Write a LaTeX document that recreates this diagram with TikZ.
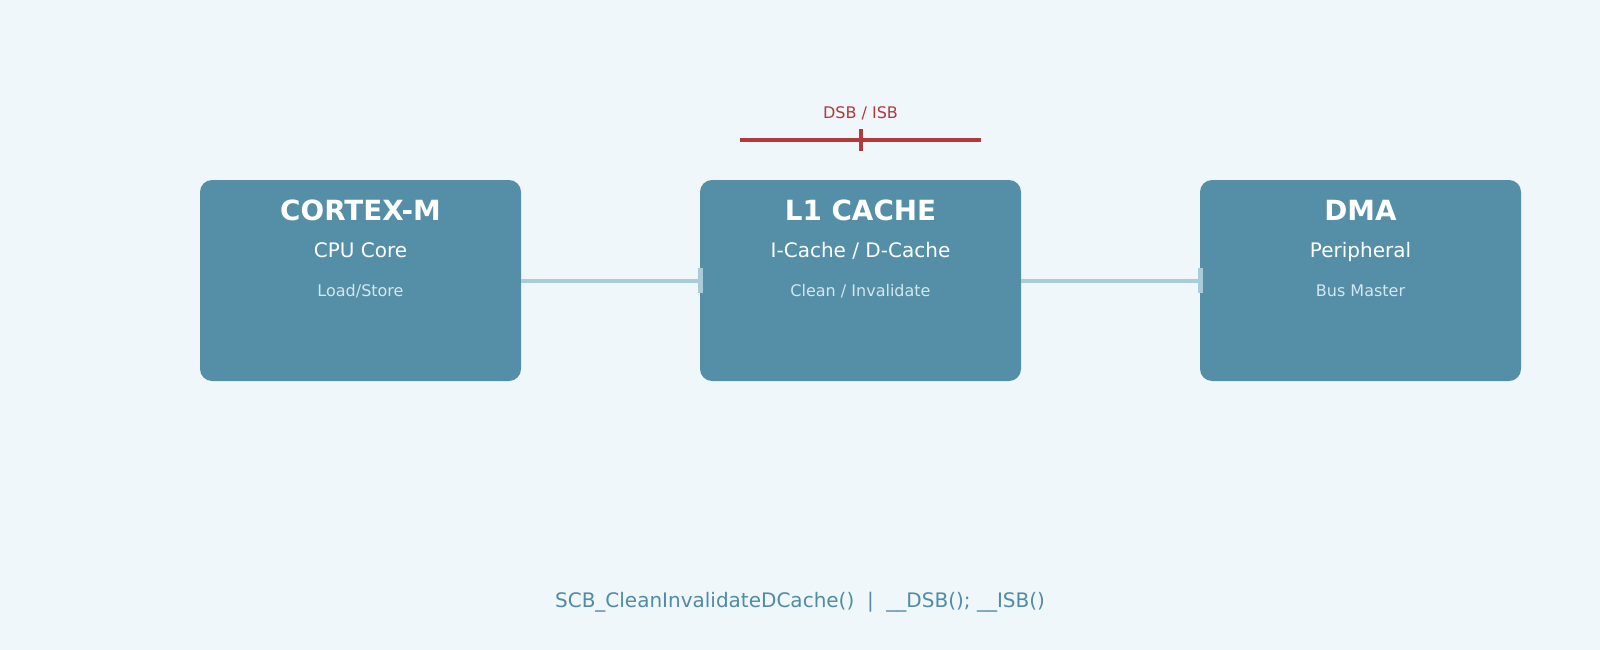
\documentclass[tikz,border=0pt]{standalone}
\usepackage{fontspec}
\setmainfont{DejaVu Sans}
\definecolor{bg}{HTML}{EFF7FA}
\definecolor{boxfill}{HTML}{558FA7}
\definecolor{conn}{HTML}{A8CCD9}
\definecolor{barred}{HTML}{B03A3C}
\definecolor{subtxt}{HTML}{D2E7EF}
\definecolor{codetxt}{HTML}{4F8CA6}
\begin{document}
\begin{tikzpicture}[x=1pt,y=-1pt,
  unit/.style={draw=none,fill=boxfill,rounded corners=12pt,minimum width=321pt,minimum height=201pt,inner sep=0pt},
  ttl/.style={anchor=base,text=white,inner sep=0pt,font=\fontsize{27.8}{32}\selectfont\bfseries},
  subt/.style={anchor=base,text=white,inner sep=0pt,font=\fontsize{20}{24}\selectfont},
  notet/.style={anchor=base,text=subtxt,inner sep=0pt,font=\fontsize{16}{19}\selectfont},
  link/.style={draw=conn,line width=4pt},
  linkend/.style={draw=conn,line width=4.5pt},
  fence/.style={draw=barred,line width=3pt},
  fencetick/.style={draw=barred,line width=4pt},
  fencelbl/.style={anchor=base,text=barred,inner sep=0pt,font=\fontsize{16}{19}\selectfont},
  codelbl/.style={anchor=base,text=codetxt,inner sep=0pt,font=\fontsize{20}{24}\selectfont}]
\fill[bg] (0,0) rectangle (1600,650);
\useasboundingbox (0,0) rectangle (1600,650);

\node[unit] (cpu) at (360.5,280.5) {};
\node[unit] (l1) at (860.5,280.5) {};
\node[unit] (dma) at (1360.5,280.5) {};

\node[ttl] (cpuT) at (360.5,220) {CORTEX-M};
\node[subt] (cpuS) at (360.5,257) {CPU Core};
\node[notet] (cpuN) at (360.5,296) {Load/Store};

\node[ttl] (l1T) at (860.5,220) {L1 CACHE};
\node[subt] (l1S) at (860.5,257) {I-Cache / D-Cache};
\node[notet] (l1N) at (860.5,296) {Clean / Invalidate};

\node[ttl] (dmaT) at (1360.5,220) {DMA};
\node[subt] (dmaS) at (1360.5,257) {Peripheral};
\node[notet] (dmaN) at (1360.5,296) {Bus Master};

\draw[link] (cpu.east) -- (l1.west);
\draw[linkend] ([shift={(0.5pt,-12.5pt)}]l1.west) -- ([shift={(0.5pt,12.5pt)}]l1.west);
\draw[link] (l1.east) -- (dma.west);
\draw[linkend] ([shift={(0.5pt,-12.5pt)}]dma.west) -- ([shift={(0.5pt,12.5pt)}]dma.west);

\coordinate (fl) at (740,140);
\coordinate (fr) at (981,140);
\coordinate (ft) at (860.5,129.5);
\coordinate (fb) at (860.5,151);
\draw[fence] (fl) -- (fr);
\draw[fencetick] (ft) -- (fb);
\node[fencelbl] (fenceL) at (860.5,118) {DSB / ISB};

\node[codelbl] (code) at (800,607) {SCB\_CleanInvalidateDCache()\ \ |\ \ \_\_DSB(); \_\_ISB()};
\end{tikzpicture}
\end{document}
